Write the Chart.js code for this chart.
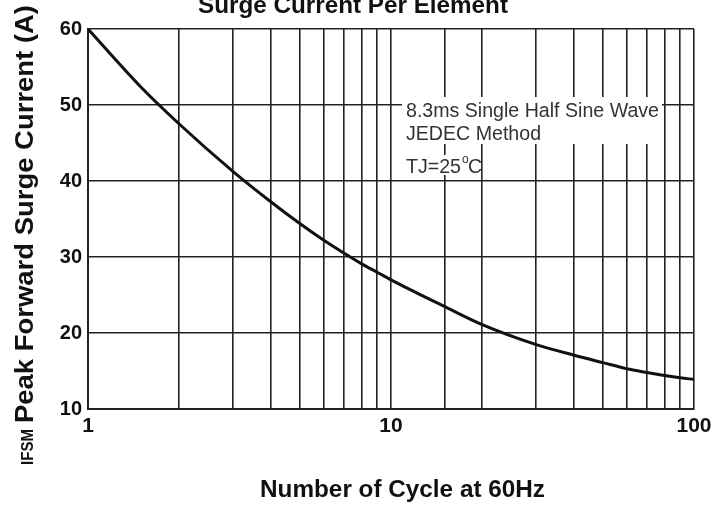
<!DOCTYPE html>
<html>
<head>
<meta charset="utf-8">
<script src="https://cdn.jsdelivr.net/npm/chart.js@4"></script>
<style>
  html, body { margin: 0; padding: 0; background: #fff; }
  #wrap { width: 728px; height: 507px; }
</style>
</head>
<body>
<div id="wrap"><canvas id="myChart" width="728" height="507"></canvas></div>
<script>
// number of cycles (log axis) and peak surge current in A
const cycles = [1, 1.5, 2, 3, 4, 5, 6, 7, 8, 9, 10, 15, 20, 30, 40, 50, 60, 70, 80, 90, 100];
const current = [60, 52.3, 47.5, 41.3, 37.3, 34.4, 32.2, 30.5, 29.1, 28.0, 27.0, 23.5, 21.1, 18.5, 17.1, 16.1, 15.3, 14.8, 14.4, 14.1, 13.9];
const xLabels = [1, 10, 100];
const yTicks = [10, 20, 30, 40, 50, 60];
const noteLines = ["8.3ms Single Half Sine Wave", "JEDEC Method"];

const FONT = "'Liberation Sans', Arial, sans-serif";
const INK = "#222";

// draw text squeezed/stretched to a given width (the scan is a bit distorted)
function fitText(ctx, text, font, x, y, width) {
  ctx.font = font;
  const w = ctx.measureText(text).width;
  ctx.save();
  ctx.translate(x, y);
  ctx.scale(width / w, 1);
  ctx.fillText(text, 0, 0);
  ctx.restore();
}

// title, axis titles and the note box
const textPlugin = {
  id: "texts",
  afterDraw(chart) {
    const ctx = chart.ctx;
    const area = chart.chartArea;
    ctx.save();
    ctx.fillStyle = "#111";
    ctx.textBaseline = "alphabetic";
    ctx.textAlign = "left";

    // title (cut off at the top like the scan)
    fitText(ctx, "Surge Current Per Element", "bold 24px " + FONT, 198, 13, 310);

    // x axis title
    fitText(ctx, "Number of Cycle at 60Hz", "bold 24px " + FONT, 260, 497, 285);

    // y axis title, rotated, IFSM in smaller caps
    ctx.save();
    ctx.translate(33, 0);
    ctx.rotate(-Math.PI / 2);
    fitText(ctx, "IFSM", "bold 17px " + FONT, -465, 0, 36);
    fitText(ctx, "Peak Forward Surge Current (A)", "bold 25px " + FONT, -423, 0, 418);
    ctx.restore();
    ctx.restore();

    // note box
    ctx.save();
    const bx = area.left + 314, by = area.top + 68;
    ctx.fillStyle = "#fff";
    ctx.fillRect(bx, by, 260, 47);
    ctx.fillStyle = "#333";
    ctx.textAlign = "left";
    fitText(ctx, noteLines[0], "20.5px " + FONT, bx + 4, by + 20, 253);
    ctx.font = "20.5px " + FONT;
    const k = 253 / ctx.measureText(noteLines[0]).width;
    fitText(ctx, noteLines[1], "20.5px " + FONT, bx + 4, by + 43, ctx.measureText(noteLines[1]).width * k);
    // TJ line with superscript o
    ctx.font = "20.5px " + FONT;
    const t1 = "TJ=25";
    const tw = ctx.measureText(t1).width * k;
    ctx.fillStyle = "#fff";
    ctx.fillRect(bx + 2, by + 58, tw + 22, 20);
    ctx.fillStyle = "#333";
    fitText(ctx, t1, "20.5px " + FONT, bx + 4, by + 76, tw);
    ctx.font = "12px " + FONT;
    ctx.fillText("o", bx + 4 + tw + 1, by + 66);
    ctx.font = "20.5px " + FONT;
    fitText(ctx, "C", "20.5px " + FONT, bx + 4 + tw + 7, by + 76, ctx.measureText("C").width * k);
    ctx.restore();
  }
};

const ctx = document.getElementById("myChart").getContext("2d");
const myChart = new Chart(ctx, {
  type: "line",
  data: {
    datasets: [
      {
        label: "IFSM",
        data: cycles.map((c, i) => ({ x: c, y: current[i] })),
        borderColor: "#111",
        borderWidth: 3,
        pointRadius: 0,
        fill: false,
        cubicInterpolationMode: "monotone"
      }
    ]
  },
  options: {
    responsive: false,
    animation: false,
    layout: { padding: { left: 0, right: 34, top: 29, bottom: 0 } },
    plugins: {
      legend: { display: false },
      title: { display: false },
      tooltip: { enabled: false }
    },
    scales: {
      x: {
        type: "logarithmic",
        min: 1,
        max: 100,
        afterFit: (s) => { s.height = 98; },
        grid: { color: INK, lineWidth: 1.6, drawTicks: false },
        border: { color: INK, width: 2 },
        ticks: {
          autoSkip: false,
          maxRotation: 0,
          padding: 5,
          color: "#111",
          font: { family: FONT, size: 21, weight: "bold" },
          callback: (v) => (xLabels.includes(v) ? String(v) : "")
        }
      },
      y: {
        min: 10,
        max: 60,
        afterFit: (s) => { s.width = 88; },
        afterBuildTicks: (s) => { s.ticks = yTicks.map((v) => ({ value: v })); },
        grid: { color: INK, lineWidth: 1.6, drawTicks: false },
        border: { color: INK, width: 2 },
        ticks: {
          padding: 6,
          color: "#111",
          font: { family: FONT, size: 20, weight: "bold" }
        }
      }
    }
  },
  plugins: [textPlugin]
});
</script>
</body>
</html>
